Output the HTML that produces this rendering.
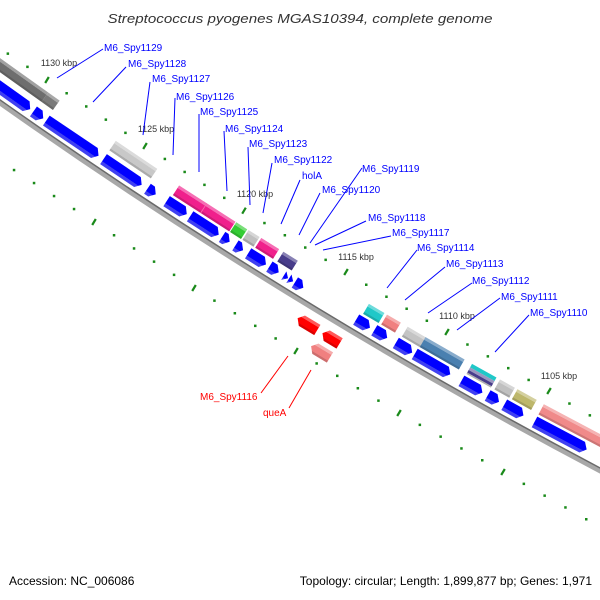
<!DOCTYPE html>
<html><head><meta charset="utf-8"><style>
html,body{margin:0;padding:0;background:#fff;width:600px;height:600px;overflow:hidden;}
svg{display:block;overflow:hidden;}
text{font-family:"Liberation Sans",sans-serif;}
</style></head><body>
<svg width="600" height="600" viewBox="0 0 600 600" xmlns="http://www.w3.org/2000/svg">
<defs>
<linearGradient id="bg" x1="0" y1="0" x2="0" y2="1">
<stop offset="0" stop-color="#0000ff"/><stop offset="0.7" stop-color="#0000ff"/><stop offset="0.72" stop-color="#4040f0"/><stop offset="1" stop-color="#4040f0"/>
</linearGradient>
<linearGradient id="sh" x1="0" y1="0" x2="0" y2="1">
<stop offset="0" stop-color="#fff" stop-opacity="0.35"/><stop offset="0.25" stop-color="#fff" stop-opacity="0.35"/><stop offset="0.27" stop-color="#fff" stop-opacity="0"/><stop offset="0.8" stop-color="#000" stop-opacity="0"/><stop offset="0.82" stop-color="#000" stop-opacity="0.15"/><stop offset="1" stop-color="#000" stop-opacity="0.15"/>
</linearGradient>
<clipPath id="frame"><rect x="0" y="0" width="600" height="600"/></clipPath>
</defs>
<rect width="600" height="600" fill="#fff"/>
<text x="300" y="23" text-anchor="middle" font-size="13" font-style="italic" fill="#333" textLength="385" lengthAdjust="spacingAndGlyphs">Streptococcus pyogenes MGAS10394, complete genome</text>

<g clip-path="url(#frame)">
<!-- tick rows -->
<g fill="#1a8a1a">
<rect x="6.6" y="52.4" width="2.5" height="2.5"/><rect x="26.2" y="65.6" width="2.5" height="2.5"/>
<rect x="65.4" y="92" width="2.5" height="2.5"/><rect x="85" y="105.2" width="2.5" height="2.5"/><rect x="104.6" y="118.4" width="2.5" height="2.5"/><rect x="124.2" y="131.6" width="2.5" height="2.5"/>
<rect x="163.6" y="157.7" width="2.5" height="2.5"/><rect x="183.4" y="170.7" width="2.5" height="2.5"/><rect x="203.2" y="183.6" width="2.5" height="2.5"/><rect x="223" y="196.6" width="2.5" height="2.5"/>
<rect x="263.2" y="221.8" width="2.5" height="2.5"/><rect x="283.6" y="234" width="2.5" height="2.5"/><rect x="304" y="246.3" width="2.5" height="2.5"/><rect x="324.4" y="258.6" width="2.5" height="2.5"/>
<rect x="365" y="283.5" width="2.5" height="2.5"/><rect x="385.2" y="295.5" width="2.5" height="2.5"/><rect x="405.4" y="307.5" width="2.5" height="2.5"/><rect x="425.6" y="319.5" width="2.5" height="2.5"/>
<rect x="466.2" y="343.3" width="2.5" height="2.5"/><rect x="486.6" y="355.1" width="2.5" height="2.5"/><rect x="507" y="366.9" width="2.5" height="2.5"/><rect x="527.4" y="378.7" width="2.5" height="2.5"/>
<rect x="568.2" y="402.3" width="2.5" height="2.5"/><rect x="588.6" y="414.1" width="2.5" height="2.5"/>
<rect x="12.8" y="168.8" width="2.5" height="2.5"/><rect x="32.8" y="181.8" width="2.5" height="2.5"/><rect x="52.8" y="194.8" width="2.5" height="2.5"/><rect x="72.8" y="207.8" width="2.5" height="2.5"/>
<rect x="112.8" y="234" width="2.5" height="2.5"/><rect x="132.8" y="247.2" width="2.5" height="2.5"/><rect x="152.8" y="260.4" width="2.5" height="2.5"/><rect x="172.8" y="273.6" width="2.5" height="2.5"/>
<rect x="213.2" y="299.4" width="2.5" height="2.5"/><rect x="233.6" y="312" width="2.5" height="2.5"/><rect x="254" y="324.6" width="2.5" height="2.5"/><rect x="274.4" y="337.2" width="2.5" height="2.5"/>
<rect x="315.4" y="362.2" width="2.5" height="2.5"/><rect x="336" y="374.6" width="2.5" height="2.5"/><rect x="356.6" y="387" width="2.5" height="2.5"/><rect x="377.2" y="399.4" width="2.5" height="2.5"/>
<rect x="418.6" y="423.6" width="2.5" height="2.5"/><rect x="439.4" y="435.4" width="2.5" height="2.5"/><rect x="460.2" y="447.2" width="2.5" height="2.5"/><rect x="481" y="459" width="2.5" height="2.5"/>
<rect x="522.6" y="482.6" width="2.5" height="2.5"/><rect x="543.4" y="494.4" width="2.5" height="2.5"/><rect x="564.2" y="506.2" width="2.5" height="2.5"/><rect x="585" y="518" width="2.5" height="2.5"/>
</g>
<g stroke="#1a8a1a" stroke-width="2.2">
<line x1="45.2" y1="83" x2="48.8" y2="77"/><line x1="143.2" y1="149" x2="146.8" y2="143"/><line x1="242.2" y1="213.7" x2="245.8" y2="207.7"/><line x1="344.2" y1="275" x2="347.8" y2="269"/><line x1="445.2" y1="335" x2="448.8" y2="329"/><line x1="547.2" y1="394" x2="550.8" y2="388"/>
<line x1="92.2" y1="225" x2="95.8" y2="219"/><line x1="192.2" y1="291" x2="195.8" y2="285"/><line x1="294.2" y1="354" x2="297.8" y2="348"/><line x1="397.2" y1="416" x2="400.8" y2="410"/><line x1="501.2" y1="475" x2="504.8" y2="469"/>
</g>

<!-- curved tracks -->
<g transform="translate(0,114.6) rotate(30.75)">
<path d="M -149.1,-23.1 A 5442.5 5442.5 0 0 0 799.8,-6.9" fill="none" stroke="#a8a8a8" stroke-width="5"/>
<path d="M -148.9,-25.6 A 5440.5 5440.5 0 0 0 799.7,-9.4" fill="none" stroke="#6a6a6a" stroke-width="1.5"/>

<!-- cluster 1 -->
<g transform="rotate(4.687,418,-5436) translate(445,4)">
<polygon fill="url(#bg)" points="-100,-16 17,-16 22,-10 17,-4 -100,-4"/>
<polygon fill="url(#bg)" points="26,-16 33,-16 38,-10 33,-4 26,-4"/>
<g transform="translate(-3,-4)">
<rect x="-100" y="-30" width="130" height="11.5" fill="#6e6e6e"/>
<rect x="30" y="-30" width="14" height="11.5" fill="#7a7a7a"/>
<rect x="-100" y="-30" width="144" height="11.5" fill="url(#sh)"/>
</g>
</g>
<!-- cluster 2 -->
<g transform="rotate(3.244,418,-5436) translate(308,4)">
<polygon fill="url(#bg)" points="42,-16 100,-16 105,-10 100,-4 42,-4"/>
<polygon fill="url(#bg)" points="111,-16 152,-16 157,-10 152,-4 111,-4"/>
<polygon fill="url(#bg)" points="164,-16 169,-16 174,-10 169,-4 164,-4"/>
<g transform="translate(-2,-2)">
<rect x="113" y="-30" width="50" height="11.5" fill="#c8c8c8"/>
<rect x="113" y="-30" width="50" height="11.5" fill="url(#sh)"/>
</g>
</g>
<!-- cluster 3 -->
<g transform="rotate(2.043,418,-5436) translate(194,4)">
<polygon fill="url(#bg)" points="187,-16 206,-16 211,-10 206,-4 187,-4"/>
<polygon fill="url(#bg)" points="215,-16 244,-16 249,-10 244,-4 215,-4"/>
<polygon fill="url(#bg)" points="253,-16 257,-16 262,-10 257,-4 253,-4"/>
<rect x="189" y="-30" width="67" height="11.5" fill="#f0208c"/>
<rect x="257" y="-30" width="13" height="11.5" fill="#33cc33"/>
<rect x="189" y="-30" width="67" height="11.5" fill="url(#sh)"/>
<rect x="257" y="-30" width="13" height="11.5" fill="url(#sh)"/>
<line x1="222" y1="-30" x2="222" y2="-18.5" stroke="#f870b0" stroke-width="0.8"/>
</g>
<!-- cluster 4 -->
<g transform="rotate(1.190,418,-5436) translate(113,4)">
<polygon fill="url(#bg)" points="269,-16 273,-16 278,-10 273,-4 269,-4"/>
<polygon fill="url(#bg)" points="284,-16 300,-16 305,-10 300,-4 284,-4"/>
<polygon fill="url(#bg)" points="309,-16 315,-16 320,-10 315,-4 309,-4"/>
<polygon fill="url(#bg)" points="326,-15 331,-10 326,-5"/>
<polygon fill="url(#bg)" points="332,-15 337,-10 332,-5"/>
<polygon fill="url(#bg)" points="339,-16 344,-16 349,-10 344,-4 339,-4"/>
<rect x="272" y="-30" width="13" height="11.5" fill="#c0c0c0"/>
<rect x="287" y="-30" width="21" height="11.5" fill="#f0208c"/>
<rect x="313" y="-30" width="17" height="11.5" fill="#483d8b"/>
<rect x="272" y="-30" width="13" height="11.5" fill="url(#sh)"/>
<rect x="287" y="-30" width="21" height="11.5" fill="url(#sh)"/>
<rect x="313" y="-30" width="17" height="11.5" fill="url(#sh)"/>
</g>
<!-- cluster 5 (reverse) -->
<g transform="rotate(0.348,418,-5436) translate(33,4)">
<polygon points="360,19 365,13 383,13 383,25 365,25" fill="#ff0000"/>
<polygon points="389,19 394,13 409,13 409,25 394,25" fill="#ff0000"/>
<polygon points="386,36 391,30 408,30 408,42 391,42" fill="#f08080"/>
<polygon points="360,19 365,13 383,13 383,25 365,25" fill="url(#sh)"/>
<polygon points="389,19 394,13 409,13 409,25 394,25" fill="url(#sh)"/>
<polygon points="386,36 391,30 408,30 408,42 391,42" fill="url(#sh)"/>
</g>
<!-- cluster 6 -->
<g transform="rotate(-0.263,418,-5436) translate(-25,4)">
<polygon fill="url(#bg)" points="411,-16 422,-16 427,-10 422,-4 411,-4"/>
<polygon fill="url(#bg)" points="432,-16 442,-16 447,-10 442,-4 432,-4"/>
<polygon fill="url(#bg)" points="457,-16 471,-16 476,-10 471,-4 457,-4"/>
<rect x="414" y="-30" width="18" height="11.5" fill="#20c8c8"/>
<rect x="435" y="-30" width="16" height="11.5" fill="#f08080"/>
<rect x="459" y="-30" width="21" height="11.5" fill="#c4c4c4"/>
<rect x="414" y="-30" width="18" height="11.5" fill="url(#sh)"/>
<rect x="435" y="-30" width="16" height="11.5" fill="url(#sh)"/>
<rect x="459" y="-30" width="21" height="11.5" fill="url(#sh)"/>
</g>
<!-- cluster 7 -->
<g transform="rotate(-0.916,418,-5436) translate(-87,4)">
<polygon fill="url(#bg)" points="479,-16 515,-16 520,-10 515,-4 479,-4"/>
<rect x="480" y="-30" width="45" height="11.5" fill="#4a80b0"/>
<rect x="480" y="-30" width="45" height="11.5" fill="url(#sh)"/>
</g>
<!-- cluster 8 -->
<g transform="rotate(-1.622,418,-5436) translate(-154,4)">
<polygon fill="url(#bg)" points="533,-16 552,-16 557,-10 552,-4 533,-4"/>
<polygon fill="url(#bg)" points="563,-16 571,-16 576,-10 571,-4 563,-4"/>
<polygon fill="url(#bg)" points="582,-16 599,-16 604,-10 599,-4 582,-4"/>
<rect x="534" y="-30" width="28" height="4" fill="#20c8c8"/>
<rect x="534" y="-26" width="28" height="3" fill="#9a96c0"/>
<rect x="534" y="-23" width="28" height="3" fill="#483d8b"/>
<rect x="534" y="-20" width="28" height="1.5" fill="#b0b0b0"/>
<rect x="566" y="-30" width="17" height="11.5" fill="#c0c0c0"/>
<rect x="586" y="-30" width="22" height="11.5" fill="#bdb76b"/>
<rect x="566" y="-30" width="17" height="11.5" fill="url(#sh)"/>
<rect x="586" y="-30" width="22" height="11.5" fill="url(#sh)"/>
</g>
<!-- cluster 9 -->
<g transform="rotate(-2.865,418,-5436) translate(-272,4)">
<polygon fill="url(#bg)" points="617,-16 671,-16 676,-10 671,-4 617,-4"/>
<polygon fill="url(#bg)" points="693,-10 700,-16 730,-16 730,-4 700,-4"/>
<rect x="617" y="-30" width="90" height="11.5" fill="#f08a8a"/>
<rect x="617" y="-30" width="90" height="11.5" fill="url(#sh)"/>
</g>
</g>
</g>

<g font-size="9" fill="#333" text-anchor="middle">
<text x="59" y="66">1130 kbp</text><text x="156" y="132">1125 kbp</text><text x="255" y="197">1120 kbp</text><text x="356" y="260">1115 kbp</text><text x="457" y="319">1110 kbp</text><text x="559" y="379">1105 kbp</text>
</g>

<!-- label lines -->
<g stroke="#0000ff" stroke-width="1">
<line x1="103" y1="49" x2="57" y2="78"/>
<line x1="126" y1="67" x2="93" y2="102"/>
<line x1="150" y1="82" x2="143" y2="135"/>
<line x1="175" y1="98" x2="173" y2="155"/>
<line x1="199" y1="114" x2="199" y2="172"/>
<line x1="224" y1="131" x2="227" y2="191"/>
<line x1="248" y1="147" x2="250" y2="205"/>
<line x1="272" y1="163" x2="263" y2="213"/>
<line x1="300" y1="180" x2="281" y2="224"/>
<line x1="320" y1="193" x2="299" y2="235"/>
<line x1="362" y1="168" x2="310" y2="243"/>
<line x1="366" y1="221" x2="315" y2="245"/>
<line x1="391" y1="236" x2="323" y2="250"/>
<line x1="417" y1="250" x2="387" y2="288"/>
<line x1="445" y1="267" x2="405" y2="300"/>
<line x1="472" y1="283" x2="428" y2="313"/>
<line x1="500" y1="298" x2="457" y2="330"/>
<line x1="529" y1="315" x2="495" y2="352"/>
</g>
<g font-size="10" fill="#0000ff">
<text x="104" y="51">M6_Spy1129</text>
<text x="128" y="67">M6_Spy1128</text>
<text x="152" y="82">M6_Spy1127</text>
<text x="176" y="100">M6_Spy1126</text>
<text x="200" y="115">M6_Spy1125</text>
<text x="225" y="132">M6_Spy1124</text>
<text x="249" y="147">M6_Spy1123</text>
<text x="274" y="163">M6_Spy1122</text>
<text x="302" y="179">holA</text>
<text x="322" y="193">M6_Spy1120</text>
<text x="362" y="172">M6_Spy1119</text>
<text x="368" y="221">M6_Spy1118</text>
<text x="392" y="236">M6_Spy1117</text>
<text x="417" y="251">M6_Spy1114</text>
<text x="446" y="267">M6_Spy1113</text>
<text x="472" y="284">M6_Spy1112</text>
<text x="501" y="300">M6_Spy1111</text>
<text x="530" y="316">M6_Spy1110</text>
</g>
<g stroke="#ff0000" stroke-width="1">
<line x1="261" y1="393" x2="288" y2="356"/>
<line x1="289" y1="408" x2="311" y2="370"/>
</g>
<g font-size="10" fill="#ff0000">
<text x="200" y="400">M6_Spy1116</text>
<text x="263" y="416">queA</text>
</g>
<text x="9" y="585" font-size="12" fill="#000">Accession: NC_006086</text>
<text x="592" y="585" font-size="12" fill="#000" text-anchor="end">Topology: circular; Length: 1,899,877 bp; Genes: 1,971</text>
</svg>
</body></html>
